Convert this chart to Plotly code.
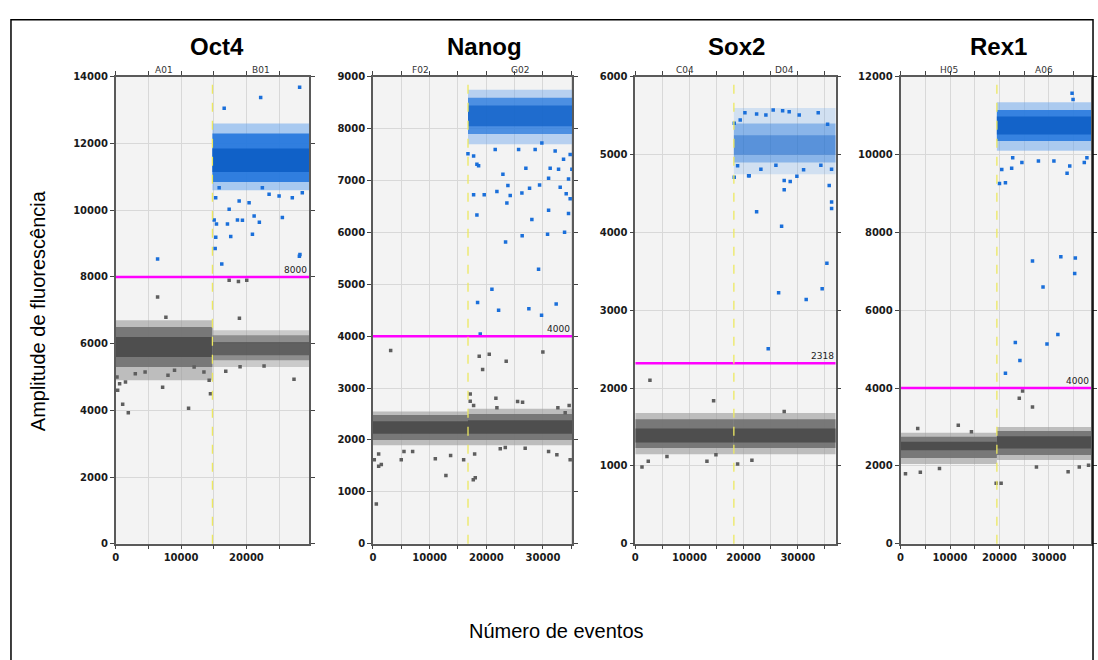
import plotly.graph_objects as go

# ---------------- data ----------------
TITLES = ["Oct4", "Nanog", "Sox2", "Rex1"]
WELLS = [["A01", "B01"], ["F02", "G02"], ["C04", "D04"], ["H05", "A06"]]
X_MAX = [29600, 35200, 37000, 38500]
Y_MAX = [14000, 9000, 6000, 12000]
Y_STEP = [2000, 1000, 1000, 2000]
DIVIDER = [14800, 16770, 18200, 19470]
THRESHOLD = [8000, 4000, 2318, 4000]

# negative (grey) droplet cloud per well: sparse fringe, body, dense core
NEG_FRINGE_LO = [[4900, 5300], [1900, 1900], [1150, 1150], [2050, 2150]]
NEG_FRINGE_HI = [[6700, 6400], [2550, 2600], [1680, 1680], [2850, 3000]]
NEG_BODY_LO = [[5300, 5500], [2000, 2000], [1230, 1230], [2200, 2280]]
NEG_BODY_HI = [[6500, 6250], [2480, 2500], [1600, 1600], [2750, 2900]]
NEG_CORE_LO = [[5600, 5650], [2120, 2120], [1300, 1300], [2400, 2450]]
NEG_CORE_HI = [[6200, 6050], [2360, 2380], [1480, 1480], [2620, 2760]]
NEG_DENSITY = [[1.0, 0.75], [1.0, 1.0], [1.0, 1.0], [1.0, 1.0]]

# positive (blue) droplet cloud (second well only)
POS_FRINGE_LO = [10600, 7700, 4750, 10100]
POS_FRINGE_HI = [12600, 8750, 5600, 11350]
POS_BODY_LO = [10850, 7900, 4900, 10350]
POS_BODY_HI = [12300, 8600, 5400, 11150]
POS_CORE_LO = [11150, 8050, 5000, 10520]
POS_CORE_HI = [11850, 8450, 5250, 10980]
POS_DENSITY = [1.0, 0.8, 0.45, 0.95]

# individually visible droplets
POS_PTS_X = [
    [16600, 22180, 28140, 15070, 15420, 17100, 18630, 19390, 21980, 20920, 17600, 15310, 15220,
     16230, 28190, 28100, 6410, 15300, 17360, 18890, 21180, 23470, 25000, 27020, 28550, 20410,
     15830, 22440, 25500],
    [16760, 17760, 18340, 18640, 22930, 17760, 19630, 21870, 23810, 24220, 23630, 26280, 27630,
     29400, 30990, 31270, 33040, 34100, 34800, 34510, 18340, 28040, 30990, 34510, 21570, 25700,
     26980, 28620, 29800, 32150, 33630, 35100, 34800, 32750, 23400, 26330, 30810, 33810, 29220,
     20990, 18460, 22170, 27510, 29750, 32330, 18930],
    [22400, 27490, 27490, 28600, 36240, 36240, 35800, 18270, 20920, 27010, 26460, 31550, 34500,
     35370, 24540, 20240, 22400, 24110, 25460, 27200, 28410, 30260, 33770, 18270, 35500, 19370,
     18890, 21030, 23190, 25960, 29830, 31070, 34260, 36230],
    [34670, 34870, 20000, 21200, 20460, 22460, 33660, 34200, 37140, 31000, 27870, 24530, 37670,
     22670, 26670, 32400, 35330, 35200, 28800, 31800, 23200, 29600, 24130, 21200],
]
POS_PTS_Y = [
    [13060, 13380, 13690, 9710, 9590, 9590, 9710, 9700, 9640, 9280, 9210, 9190, 8850,
     8390, 8670, 8620, 8540, 10376, 10030, 10278, 9830, 10478, 10427, 10376, 10526, 10227,
     10675, 10675, 9780],
    [7520, 7475, 7315, 7285, 7125, 6727, 6727, 6790, 6905, 6715, 6570, 6760, 6855,
     6917, 7045, 7240, 6873, 6746, 6650, 7030, 6335, 6250, 6430, 6365, 7600, 7600,
     7240, 7600, 7727, 7570, 7410, 7220, 7505, 7220, 5815, 5937, 5968, 6005, 5291,
     4904, 4652, 4500, 4532, 4405, 4620, 4044],
    [4266, 4667, 4548, 4654, 4392, 4308, 4604, 4709, 4730, 4080, 3224, 3139, 3278,
     3604, 2506, 5540, 5523, 5510, 5573, 5566, 5553, 5510, 5540, 5405, 5392, 5447,
     4857, 4730, 4814, 4865, 4722, 4806, 4865, 4814],
    [11580, 11420, 9260, 9280, 9620, 9650, 9520, 9710, 9800, 9840, 9840, 9800, 9920,
     9920, 7266, 7375, 7342, 6945, 6600, 5375, 5172, 5131, 4709, 4380],
]
NEG_PTS_X = [
    [6410, 17360, 18780, 20050, 18930, 7680, 7180, 11150, 1070, 1930, 14500, 14300, 27280,
     16840, 19030, 22700, 300, 600, 200, 1500, 3000, 4500, 9000, 12000, 13500, 8000],
    [3120, 18750, 19350, 20520, 23510, 29980, 17160, 17160, 17760, 21690, 21870, 25520, 26400,
     32630, 34620, 33920, 230, 1000, 1000, 1470, 590, 4990, 5470, 7000, 11000, 12870, 13700,
     16000, 17700, 18050, 17940, 22460, 23350, 26860, 30990, 32450, 34800],
    [2710, 14460, 27490, 18890, 21530, 1240, 13230, 2400, 5850, 14890],
    [24670, 24000, 26670, 11670, 3470, 14330, 1000, 4000, 7870, 19330, 20330, 33870, 36130,
     27470, 38000],
]
NEG_PTS_Y = [
    [7400, 7900, 7860, 7900, 6760, 6790, 4690, 4060, 4180, 3930, 4500, 4900, 4930,
     5170, 5310, 5330, 4600, 4800, 5000, 4850, 5100, 5150, 5200, 5300, 5150, 5050],
    [3727, 3613, 3361, 3651, 3518, 3696, 2886, 2747, 2664, 2804, 2620, 2740, 2728,
     2620, 2664, 2525, 1620, 1728, 1494, 1525, 765, 1620, 1779, 1779, 1639, 1316, 1703,
     1620, 1234, 1272, 1728, 1829, 1855, 1842, 1779, 1715, 1620],
    [2101, 1839, 1700, 1025, 1072, 987, 1059, 1059, 1122, 1143],
    [3924, 3739, 3511, 3046, 2962, 2878, 1797, 1840, 1932, 1552, 1552, 1848, 1975,
     1975, 2017],
]

# ---------------- styling / layout ----------------
W, H = 1098, 660
X_DOM_PX = [(113, 307), (371, 571), (634, 835), (900, 1091)]
Y_DOM_PX = (73, 547)
TITLE_X_PX = [215, 483, 736, 998]

GREY_FRINGE, GREY_BODY, GREY_CORE = "#9a9a9a", "#707070", "#474747"
BLUE_FRINGE, BLUE_BODY, BLUE_CORE = "#6aa5ec", "#2276dd", "#0b5cc4"
BLUE_PT, GREY_PT = "#1a6fda", "#5e5e5e"
TICK_FONT = dict(family="DejaVu Sans", size=10, color="#1a1a1a", weight="bold")

fig = go.Figure()


def band(i, x0, x1, lo, hi, color, opacity):
    sfx = "" if i == 0 else str(i + 1)
    fig.add_trace(go.Scatter(
        x=[x0, x1, x1, x0, x0], y=[lo, lo, hi, hi, lo], mode="lines",
        fill="toself", fillcolor=color, opacity=opacity, line=dict(width=0),
        hoverinfo="skip", showlegend=False, xaxis="x" + sfx, yaxis="y" + sfx))


annotations = []
shapes = []
layout_axes = {}
y0p = 1 - Y_DOM_PX[1] / H
y1p = 1 - Y_DOM_PX[0] / H

for i in range(4):
    sfx = "" if i == 0 else str(i + 1)
    xa, ya = "x" + sfx, "y" + sfx
    edges = [(0, DIVIDER[i]), (DIVIDER[i], X_MAX[i])]
    # negative clouds
    for w, (a, b) in enumerate(edges):
        d = NEG_DENSITY[i][w]
        band(i, a, b, NEG_FRINGE_LO[i][w], NEG_FRINGE_HI[i][w], GREY_FRINGE, 0.6 * d)
        band(i, a, b, NEG_BODY_LO[i][w], NEG_BODY_HI[i][w], GREY_BODY, 0.9 * d)
        band(i, a, b, NEG_CORE_LO[i][w], NEG_CORE_HI[i][w], GREY_CORE, 0.85 * d)
    # positive cloud
    a, b = edges[1]
    d = POS_DENSITY[i]
    band(i, a, b, POS_FRINGE_LO[i], POS_FRINGE_HI[i], BLUE_FRINGE, 0.55 * d)
    band(i, a, b, POS_BODY_LO[i], POS_BODY_HI[i], BLUE_BODY, 0.9 * d)
    band(i, a, b, POS_CORE_LO[i], POS_CORE_HI[i], BLUE_CORE, 0.85 * d)
    # individual droplets
    fig.add_trace(go.Scatter(
        x=NEG_PTS_X[i], y=NEG_PTS_Y[i], mode="markers",
        marker=dict(symbol="square", size=3.5, color=GREY_PT, line=dict(width=0)),
        showlegend=False, xaxis=xa, yaxis=ya))
    fig.add_trace(go.Scatter(
        x=POS_PTS_X[i], y=POS_PTS_Y[i], mode="markers",
        marker=dict(symbol="square", size=3.5, color=BLUE_PT, line=dict(width=0)),
        showlegend=False, xaxis=xa, yaxis=ya))
    # threshold
    fig.add_trace(go.Scatter(
        x=[0, X_MAX[i]], y=[THRESHOLD[i], THRESHOLD[i]], mode="lines",
        line=dict(color="#ff00ff", width=2.5), showlegend=False,
        xaxis=xa, yaxis=ya))
    annotations.append(dict(
        x=X_MAX[i], y=THRESHOLD[i], xref=xa, yref=ya, text=str(THRESHOLD[i]),
        showarrow=False, xanchor="right", yanchor="bottom", yshift=0,
        font=dict(family="DejaVu Sans", size=9, color="#222")))
    # well divider
    shapes.append(dict(
        type="line", x0=DIVIDER[i], x1=DIVIDER[i], y0=0, y1=1, xref=xa,
        yref=ya + " domain", line=dict(color="#ece860", width=1.3, dash="dash")))
    # well labels
    for w, (a, b) in enumerate(edges):
        annotations.append(dict(
            x=(a + b) / 2, y=1, xref=xa, yref=ya + " domain", text=WELLS[i][w],
            showarrow=False, yanchor="bottom", yshift=0,
            font=dict(family="DejaVu Sans", size=9, color="#333")))
    # panel title
    annotations.append(dict(
        x=TITLE_X_PX[i] / W, y=1 - 42 / H, xref="paper", yref="paper", text=TITLES[i],
        showarrow=False, xanchor="center", yanchor="middle",
        font=dict(family="Liberation Sans", size=24, color="#000", weight="bold")))

    xt = list(range(0, X_MAX[i] + 1, 5000))
    layout_axes["xaxis" + sfx] = dict(
        domain=[X_DOM_PX[i][0] / W, X_DOM_PX[i][1] / W], anchor=ya, range=[0, X_MAX[i]],
        tickvals=xt, ticktext=[str(v) if v % 10000 == 0 else "" for v in xt],
        showgrid=True, gridcolor="#d8d8d8", gridwidth=1, zeroline=False,
        showline=True, linecolor="#5a5a5a", linewidth=1.5, mirror="ticks",
        ticks="outside", ticklen=4, tickcolor="#444", tickfont=TICK_FONT)
    yt = list(range(0, Y_MAX[i] + 1, Y_STEP[i]))
    layout_axes["yaxis" + sfx] = dict(
        domain=[y0p, y1p], anchor=xa, range=[0, Y_MAX[i]],
        tickvals=yt, ticktext=[str(v) for v in yt],
        showgrid=True, gridcolor="#d8d8d8", gridwidth=1, zeroline=False,
        showline=True, linecolor="#5a5a5a", linewidth=1.5, mirror="ticks",
        ticks="outside", ticklen=4, tickcolor="#444", tickfont=TICK_FONT)

# axis titles
annotations.append(dict(
    x=35 / W, y=1 - 310 / H, xref="paper", yref="paper", text="Amplitude de fluorescência",
    showarrow=False, textangle=-90, xanchor="center", yanchor="middle",
    font=dict(family="Liberation Sans", size=20, color="#000")))
annotations.append(dict(
    x=555 / W, y=1 - 636 / H, xref="paper", yref="paper", text="Número de eventos",
    showarrow=False, xanchor="center", yanchor="middle",
    font=dict(family="Liberation Sans", size=20, color="#000")))

# outer frame
shapes.append(dict(type="rect", xref="paper", yref="paper",
                   x0=8 / W, x1=1093 / W, y0=-0.05, y1=1 - 15 / H,
                   line=dict(color="#000", width=1.5)))

fig.update_layout(
    width=W, height=H, margin=dict(l=0, r=0, t=0, b=0),
    paper_bgcolor="white", plot_bgcolor="#f3f3f3",
    annotations=annotations, shapes=shapes, showlegend=False, **layout_axes)

fig.write_html("out.html")
